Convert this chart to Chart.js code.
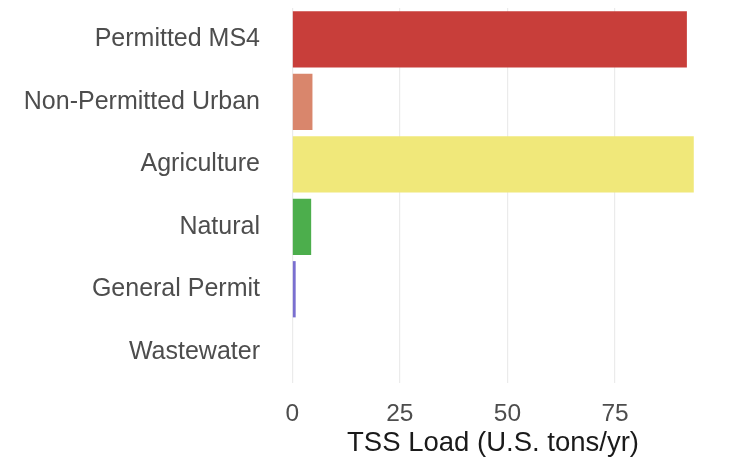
<!DOCTYPE html>
<html>
<head>
<meta charset="utf-8">
<script src="https://cdn.jsdelivr.net/npm/chart.js@4/dist/chart.umd.min.js"></script>
<style>
  body { margin: 0; background: #fff; }
  #wrap { width: 729px; height: 457px; }
</style>
</head>
<body>
<div id="wrap"><canvas id="chart" width="729" height="457"></canvas></div>
<script>
// source categories and loads (U.S. tons/yr)
const categories = ['Permitted MS4', 'Non-Permitted Urban', 'Agriculture', 'Natural', 'General Permit', 'Wastewater'];
const tssLoad = [91.7, 4.7, 93.3, 4.4, 0.8, 0];
const barColors = ['#c83e3a', '#d9866c', '#f0e87a', '#4cae4c', '#7a6fd0', '#e67e22'];
const xTicks = [0, 25, 50, 75];

const fontFamily = "'Liberation Sans', Arial, sans-serif";
const ctx = document.getElementById('chart');

const chart = new Chart(ctx, {
  type: 'bar',
  data: {
    labels: categories,
    datasets: [{
      data: tssLoad,
      backgroundColor: barColors,
      borderWidth: 0,
      barPercentage: 0.9,
      categoryPercentage: 1.0
    }]
  },
  options: {
    indexAxis: 'y',
    responsive: false,
    animation: false,
    layout: { padding: { top: 8, right: 15, left: 0, bottom: 0 } },
    plugins: {
      legend: { display: false },
      tooltip: { enabled: false }
    },
    scales: {
      x: {
        type: 'linear',
        min: -4.7,
        max: 98,
        afterBuildTicks: (scale) => { scale.ticks = xTicks.map(v => ({ value: v })); },
        afterFit: (scale) => {
          scale.height = 74;
          scale.paddingLeft = 0;
          scale.paddingRight = 0;
        },
        border: { display: false },
        grid: { color: '#ebebeb', lineWidth: 1.2, drawTicks: false },
        ticks: {
          color: '#4d4d4d',
          padding: 17,
          font: { family: fontFamily, size: 24.5 }
        },
        title: {
          display: true,
          text: 'TSS Load (U.S. tons/yr)',
          color: '#1a1a1a',
          padding: { top: 0, bottom: -3 },
          font: { family: fontFamily, size: 27.5 }
        }
      },
      y: {
        afterFit: (scale) => {
          scale.width = 272;
          scale.paddingTop = 0;
          scale.paddingBottom = 0;
        },
        border: { display: false },
        grid: { display: false, drawTicks: false },
        ticks: {
          color: '#4d4d4d',
          padding: 12,
          font: { family: fontFamily, size: 25 }
        }
      }
    }
  }
});
</script>
</body>
</html>
